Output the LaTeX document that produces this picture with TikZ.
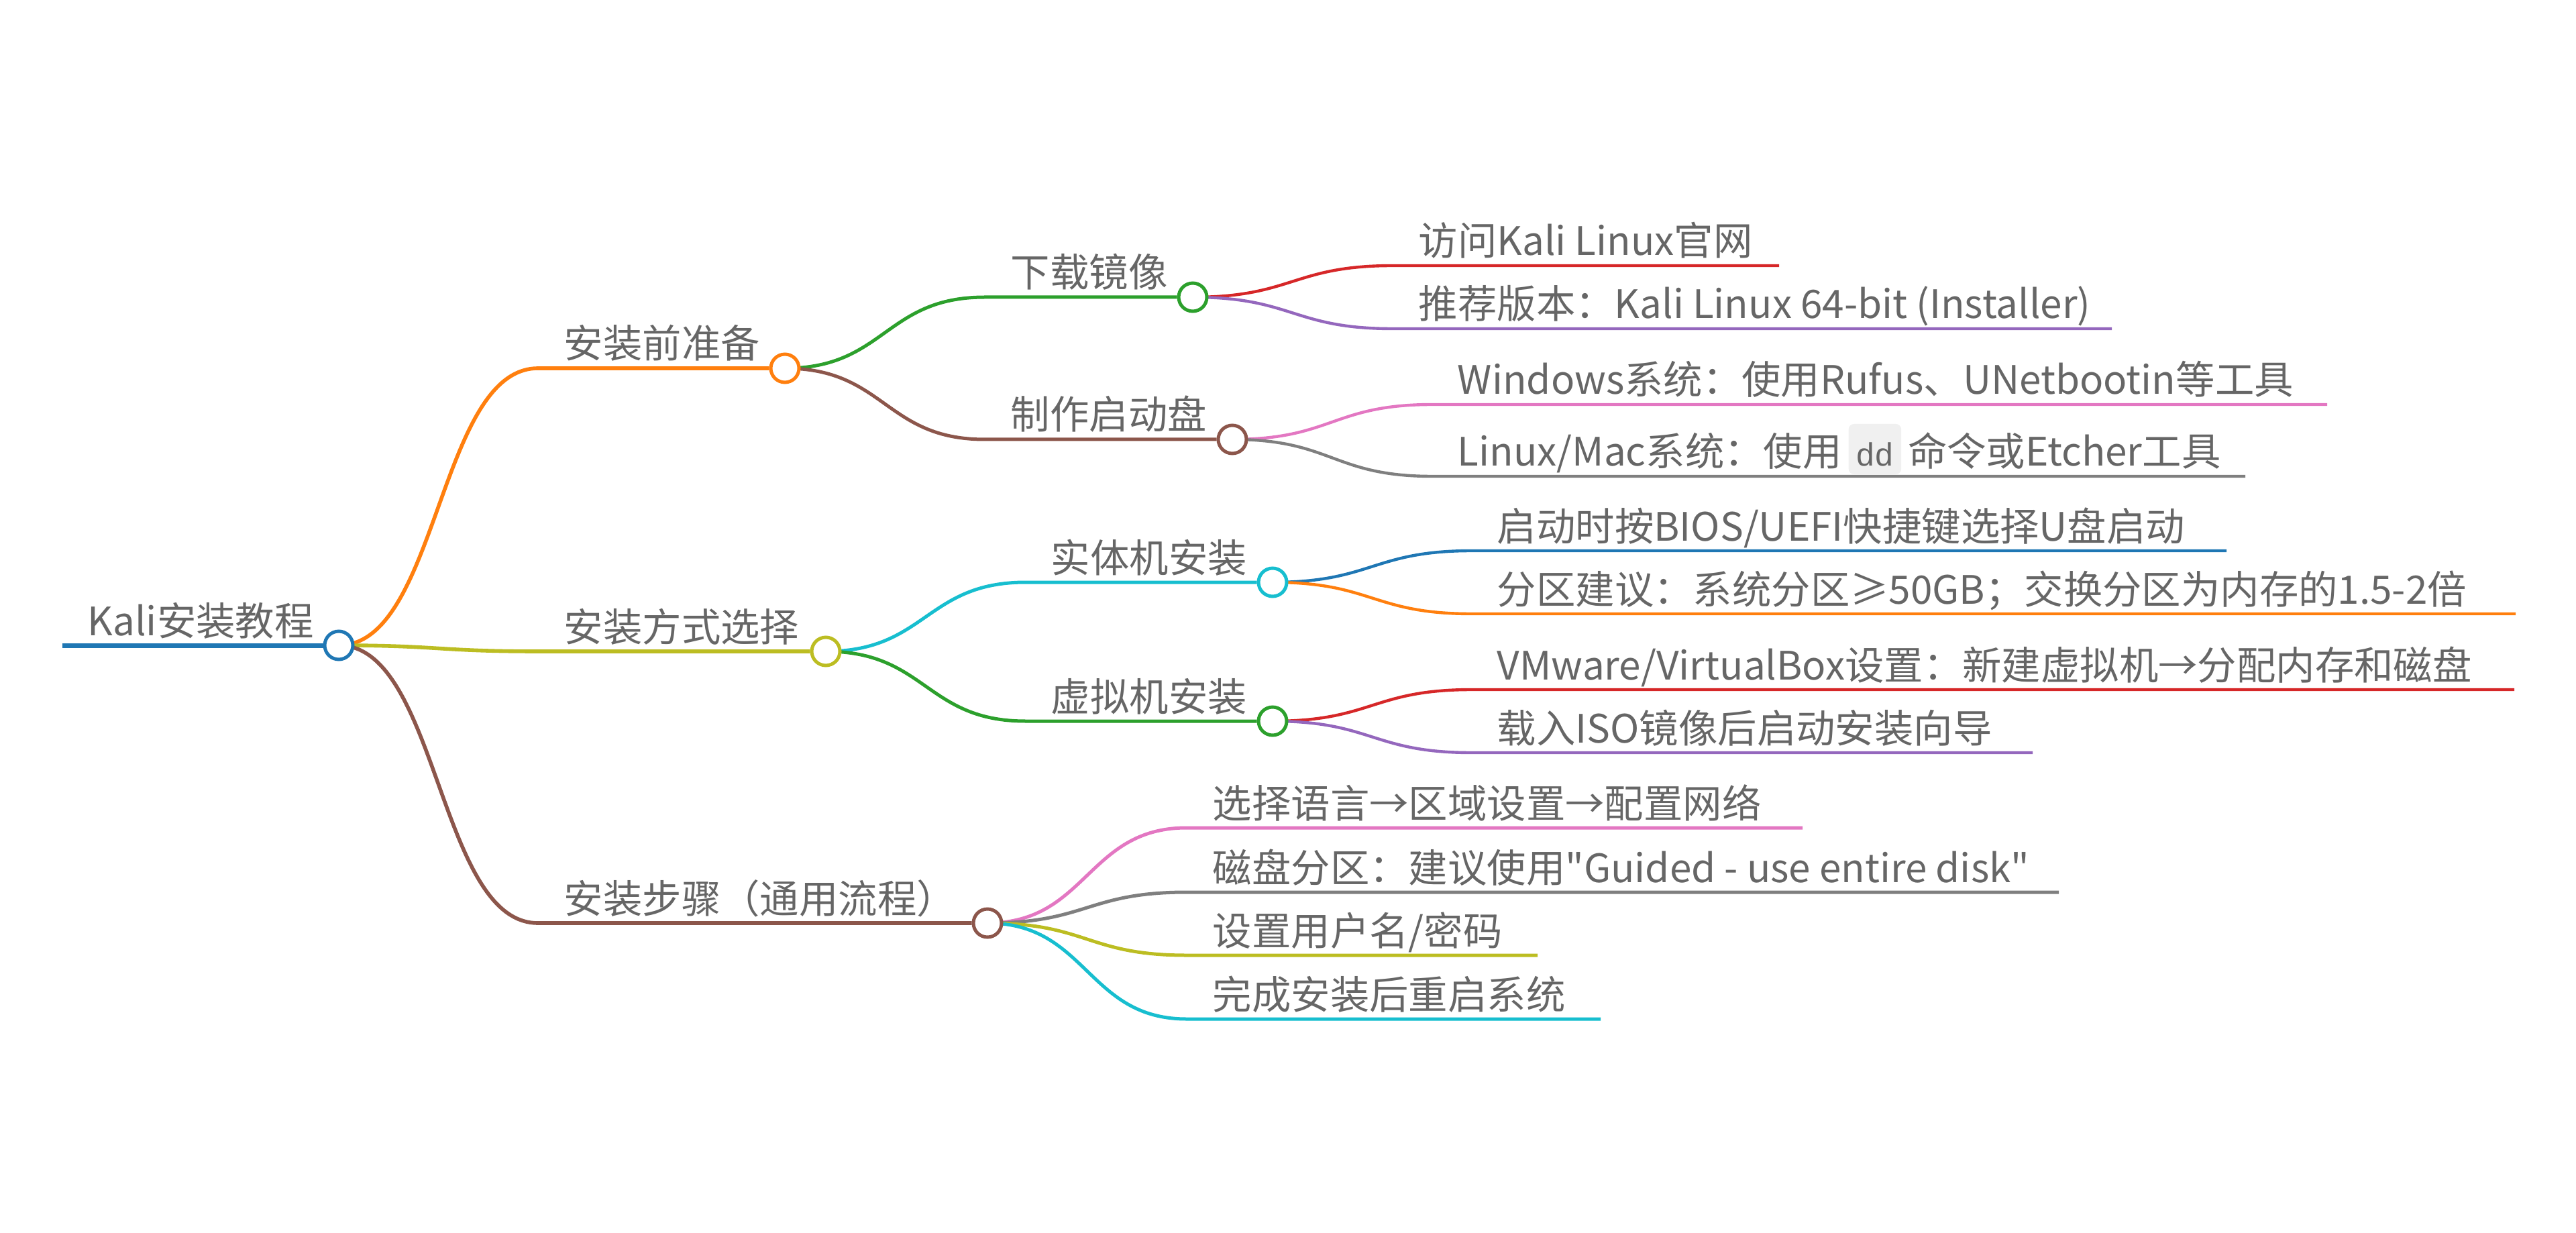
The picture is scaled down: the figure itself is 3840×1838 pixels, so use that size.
\documentclass[tikz,border=0pt]{standalone}
\usepackage{fontspec}
\setmainfont{Noto Sans CJK SC}[Ligatures=TeXOff]
\newfontfamily\codefont{Liberation Mono}
\usetikzlibrary{calc,backgrounds}
\definecolor{cblue}{HTML}{1F77B4}
\definecolor{corange}{HTML}{FF7F0E}
\definecolor{cgreen}{HTML}{2CA02C}
\definecolor{cred}{HTML}{D62728}
\definecolor{cpurple}{HTML}{9467BD}
\definecolor{cbrown}{HTML}{8C564B}
\definecolor{cpink}{HTML}{E377C2}
\definecolor{cgray}{HTML}{7F7F7F}
\definecolor{colive}{HTML}{BCBD22}
\definecolor{ccyan}{HTML}{17BECF}
\definecolor{txt}{HTML}{666666}
\definecolor{codebg}{HTML}{F0F0F0}
\tikzset{
  lbl/.style={anchor=base west, inner sep=0pt, text=txt, font=\fontsize{14.6pt}{18pt}\selectfont},
  dot/.style={circle, draw=#1, fill=white, minimum size=10.5pt, inner sep=0pt, line width=1.25pt},
  lv1/.style={draw=#1, line width=1.4pt},
  lv2/.style={draw=#1, line width=1.25pt},
  lv3/.style={draw=#1, line width=1.1pt},
}
\newcommand\branch[4]{\path[#1] let \p1=(#2.center), \p2=(#3) in (\p1) .. controls ({(\x1+\x2)/2},\y1) and ({(\x1+\x2)/2},\y2) .. (\p2) -- (#4);}
\newcommand\code[1]{\hspace{2.5pt}\tikz[baseline=0pt]\node[anchor=base, fill=codebg, rounded corners=2pt, inner xsep=2.6pt, inner ysep=3pt, text height=12.75pt, text depth=0pt, text=txt, font=\fontsize{12pt}{14pt}\codefont]{#1};\hspace{2.5pt}}
\begin{document}
\begin{tikzpicture}[x=0.25pt, y=-0.25pt]
\useasboundingbox (0,0) rectangle (3840,1838);

% circles
\node[dot=cblue] (R) at (505,962) {};
\node[dot=corange] (A) at (1170,549) {};
\node[dot=colive] (B) at (1231,971) {};
\node[dot=cbrown] (C) at (1472,1376) {};
\node[dot=cgreen] (A1) at (1778,443) {};
\node[dot=cbrown] (A2) at (1837,655) {};
\node[dot=ccyan] (B1) at (1897,868) {};
\node[dot=cgreen] (B2) at (1897,1075) {};

% branch end coordinates
\coordinate (r0) at (93,962);
\coordinate (a0) at (802,549);
\coordinate (b0) at (802,971);
\coordinate (c0) at (802,1376);
\coordinate (a10) at (1468,443);
\coordinate (a20) at (1468,655);
\coordinate (b10) at (1529,868);
\coordinate (b20) at (1529,1075);
\coordinate (a1a) at (2076,396);   \coordinate (e1a) at (2652,396);
\coordinate (a1b) at (2076,490);   \coordinate (e1b) at (3148,490);
\coordinate (a2a) at (2135,603);   \coordinate (e2a) at (3469,603);
\coordinate (a2b) at (2135,710);   \coordinate (e2b) at (3347,710);
\coordinate (b1a) at (2194,821);   \coordinate (f1a) at (3319,821);
\coordinate (b1b) at (2194,915);   \coordinate (f1b) at (3750,915);
\coordinate (b2a) at (2194,1028);  \coordinate (f2a) at (3748,1028);
\coordinate (b2b) at (2194,1122);  \coordinate (f2b) at (3030,1122);
\coordinate (c1) at (1769,1234);   \coordinate (g1) at (2687,1234);
\coordinate (c2) at (1769,1330);   \coordinate (g2) at (3069,1330);
\coordinate (c3) at (1769,1424);   \coordinate (g3) at (2292,1424);
\coordinate (c4) at (1769,1519);   \coordinate (g4) at (2386,1519);

% texts
\node[lbl] (tR) at (130,947) {Kali安装教程};
\node[lbl] (tA) at (840,534) {安装前准备};
\node[lbl] (tB) at (840,956) {安装方式选择};
\node[lbl] (tC) at (840,1361) {安装步骤（通用流程）};
\node[lbl] (tA1) at (1506,428) {下载镜像};
\node[lbl] (tA2) at (1506,640) {制作启动盘};
\node[lbl] (tB1) at (1566,853) {实体机安装};
\node[lbl] (tB2) at (1566,1060) {虚拟机安装};
\node[lbl] (tA1a) at (2114,381) {访问Kali Linux官网};
\node[lbl] (tA1b) at (2114,475) {推荐版本：Kali Linux 64-bit (Installer)};
\node[lbl] (tA2a) at (2172,588) {Windows系统：使用Rufus、UNetbootin等工具};
\node[lbl] (tA2b) at (2172,695) {Linux/Mac系统：使用\code{dd}命令或Etcher工具};
\node[lbl] (tB1a) at (2231,806) {启动时按BIOS/UEFI快捷键选择U盘启动};
\node[lbl] (tB1b) at (2231,900) {分区建议：系统分区≥50GB；交换分区为内存的1.5-2倍};
\node[lbl] (tB2a) at (2231,1013) {VMware/VirtualBox设置：新建虚拟机→分配内存和磁盘};
\node[lbl] (tB2b) at (2231,1107) {载入ISO镜像后启动安装向导};
\node[lbl] (tC1) at (1807,1219) {选择语言→区域设置→配置网络};
\node[lbl] (tC2) at (1807,1315) {磁盘分区：建议使用"Guided - use entire disk"};
\node[lbl] (tC3) at (1807,1409) {设置用户名/密码};
\node[lbl] (tC4) at (1807,1504) {完成安装后重启系统};

\begin{pgfonlayer}{background}
\draw[cblue, line width=1.75pt] (r0) -- (R);
\branch{lv1=corange}{R}{a0}{A}
\branch{lv1=colive}{R}{b0}{B}
\branch{lv1=cbrown}{R}{c0}{C}
\branch{lv2=cgreen}{A}{a10}{A1}
\branch{lv2=cbrown}{A}{a20}{A2}
\branch{lv2=ccyan}{B}{b10}{B1}
\branch{lv2=cgreen}{B}{b20}{B2}
\branch{lv2=cpink}{C}{c1}{g1}
\branch{lv2=cgray}{C}{c2}{g2}
\branch{lv2=colive}{C}{c3}{g3}
\branch{lv2=ccyan}{C}{c4}{g4}
\branch{lv3=cred}{A1}{a1a}{e1a}
\branch{lv3=cpurple}{A1}{a1b}{e1b}
\branch{lv3=cpink}{A2}{a2a}{e2a}
\branch{lv3=cgray}{A2}{a2b}{e2b}
\branch{lv3=cblue}{B1}{b1a}{f1a}
\branch{lv3=corange}{B1}{b1b}{f1b}
\branch{lv3=cred}{B2}{b2a}{f2a}
\branch{lv3=cpurple}{B2}{b2b}{f2b}
\end{pgfonlayer}
\end{tikzpicture}
\end{document}
